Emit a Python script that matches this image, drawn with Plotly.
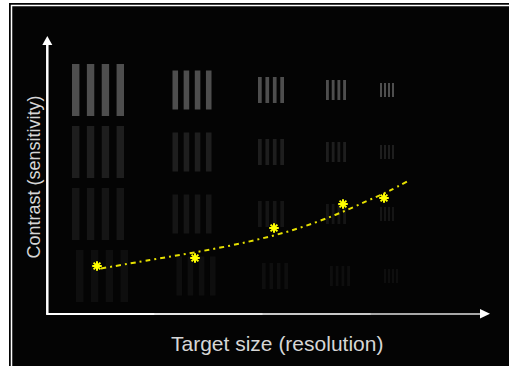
import plotly.graph_objects as go

# ---- data (diagram units == pixel grid of the reference) ----
group_sizes = [52, 39, 26, 20, 14]          # grating target size per column
col_centers = [98, 192, 271, 336, 387]      # x position of each target-size column
row_centers = [90, 152, 214, 276]           # y position of each contrast row
row_colors = ["#4e4e4e", "#1e1e1e", "#151515", "#0e0e0e"]
row_shift = [0, 0, 0, 4]
bars_per_group = 4

threshold_x = [97, 195, 274, 343, 384]
threshold_y = [266, 258, 228, 204, 198]

curve_x = [101, 150, 197, 247, 293, 335, 367, 389, 408]
curve_y = [268.5, 260, 252, 242, 230, 215, 201, 191, 181]

x_label = "Target size (resolution)"
y_label = "Contrast (sensitivity)"

W, H = 509, 366
origin = (47.3, 314)
y_axis_top = 45
x_axis_right = 480
head = 9

fig = go.Figure()
shapes = []

# background frame
shapes.append(dict(type="rect", xref="x", yref="y", x0=9, x1=W + 5, y0=3, y1=H + 5,
                   fillcolor="#040404", line=dict(width=0), layer="below"))
shapes.append(dict(type="rect", xref="x", yref="y", x0=11.5, x1=W + 5, y0=5.5, y1=H + 5,
                   fillcolor="rgba(0,0,0,0)", line=dict(color="white", width=1.5), layer="below"))

# grating targets
for ci, (cx, s) in enumerate(zip(col_centers, group_sizes)):
    unit = s / (2 * bars_per_group - 1)
    for ri, (cy, col) in enumerate(zip(row_centers, row_colors)):
        x0 = cx - s / 2 + row_shift[ri]
        for b in range(bars_per_group):
            bx = x0 + 2 * b * unit
            shapes.append(dict(type="rect", xref="x", yref="y", x0=bx, x1=bx + unit,
                               y0=cy - s / 2, y1=cy + s / 2, fillcolor=col,
                               line=dict(width=0), layer="below"))

# axes arrows
ox, oy = origin
shapes.append(dict(type="line", xref="x", yref="y", x0=ox, x1=ox, y0=oy, y1=y_axis_top,
                   line=dict(color="white", width=2.5)))
fade = ["#ffffff", "#e6e6e6", "#c8c8c8", "#a8a8a8"]
seg = (x_axis_right - ox) / len(fade)
for i, c in enumerate(fade):
    shapes.append(dict(type="line", xref="x", yref="y", x0=ox + i * seg - 1.2, x1=ox + (i + 1) * seg,
                       y0=oy, y1=oy, line=dict(color=c, width=2)))
shapes.append(dict(type="path", xref="x", yref="y",
                   path=f"M {ox-5} {y_axis_top} L {ox+5} {y_axis_top} L {ox} {y_axis_top-head} Z",
                   fillcolor="white", line=dict(width=0)))
shapes.append(dict(type="path", xref="x", yref="y",
                   path=f"M {x_axis_right} {oy-5} L {x_axis_right} {oy+4.5} L {x_axis_right+head+1} {oy-0.3} Z",
                   fillcolor="white", line=dict(width=0)))

# threshold curve
fig.add_trace(go.Scatter(x=curve_x, y=curve_y, mode="lines", line_shape="spline",
                         line=dict(color="#e6e000", width=2, dash="5px,4px,2px,4px"),
                         hoverinfo="skip", showlegend=False))
fig.add_trace(go.Scatter(x=threshold_x, y=threshold_y, mode="markers",
                         marker=dict(symbol="asterisk-open", size=8, color="#ffff00",
                                     line=dict(color="#ffff00", width=2)),
                         hoverinfo="skip", showlegend=False))

annotations = [
    dict(x=276.5, y=343, xref="x", yref="y", text=x_label, showarrow=False,
         font=dict(family="Liberation Sans, Arial", size=21, color="#d6d6d6")),
    dict(x=33, y=177.5, xref="x", yref="y", text=y_label, showarrow=False, textangle=-90,
         font=dict(family="Liberation Sans, Arial", size=18, color="#d6d6d6")),
]

fig.update_layout(
    width=W, height=H, margin=dict(l=0, r=0, t=0, b=0),
    paper_bgcolor="white", plot_bgcolor="white",
    shapes=shapes, annotations=annotations, showlegend=False,
    xaxis=dict(range=[0, W], visible=False, fixedrange=True),
    yaxis=dict(range=[H, 0], visible=False, fixedrange=True),
)

fig.write_html("out.html", config={"displayModeBar": False},
               post_script="document.body.style.margin='0';document.body.style.overflow='hidden';")
